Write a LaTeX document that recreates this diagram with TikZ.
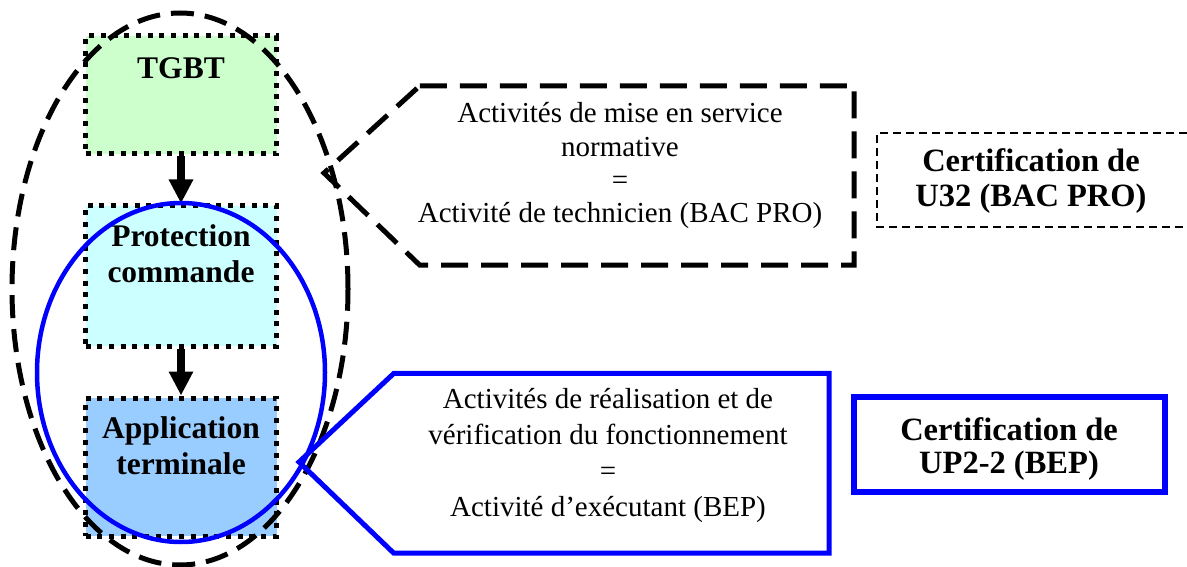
\documentclass[tikz,border=0pt]{standalone}
\usepackage{fontspec}
\setmainfont{Liberation Serif}
\usetikzlibrary{arrows.meta}
\definecolor{boxgreen}{HTML}{CCFFCC}
\definecolor{boxcyan}{HTML}{CCFFFF}
\definecolor{boxblue}{HTML}{99CCFF}
\definecolor{lineblue}{HTML}{0000FF}

\begin{document}
\begin{tikzpicture}[x=1pt,y=-1pt,
  stagebox/.style={draw=black, line width=5pt, dash pattern=on 5pt off 6.7pt,
    inner sep=0pt, minimum width=191pt},
  stagetext/.style={font=\bfseries\fontsize{31.5}{35.5}\selectfont, align=center,
    inner sep=0pt, anchor=base},
  flow/.style={line width=8pt, -{Triangle[width=23pt,length=24pt]}},
  scopeline/.style={draw=black, line width=5pt, dash pattern=on 23pt off 11pt},
  levelline/.style={draw=lineblue, line width=4.5pt},
  frame/.style={inner sep=0pt},
  dashcallout/.style={draw=black, line width=5pt, dash pattern=on 27pt off 13pt, line join=miter},
  bluecallout/.style={draw=lineblue, line width=5pt, line join=miter},
  calltext/.style={font=\fontsize{29}{33.3}\selectfont, align=center, inner sep=0pt, anchor=base},
  certtext/.style={font=\bfseries\fontsize{32.5}{34}\selectfont, align=center, inner sep=0pt, anchor=base},
  certdash/.style={draw=black, line width=2pt, dash pattern=on 8pt off 5pt},
  certblue/.style={draw=lineblue, line width=6.5pt, inner sep=0pt}
]
\useasboundingbox (0,0) rectangle (1187,567);
\clip (0,0) rectangle (1187,567);

% the three installation levels (text anchored on the baseline of its last line)
\node[stagebox, fill=boxgreen, minimum height=118pt] (tgbt) at (181,95) {};
\node[stagebox, fill=boxcyan, minimum height=140pt] (prot) at (181,276) {};
\node[stagebox, fill=boxblue, minimum height=138pt] (app) at (181,467) {};

\node[stagetext] (tgbtlbl) at (181,79) {TGBT};
\node[stagetext] (protlbl) at (181,282) {Protection\\commande};
\node[stagetext] (applbl) at (181,474) {Application\\terminale};

\draw[flow] (tgbt.south) -- (prot.north);
\draw[flow] (prot.south) -- (app.north);

% scope of each certification
\draw[scopeline] (180,289) ellipse [x radius=168pt, y radius=276pt];
\draw[levelline] (181,372.5) ellipse [x radius=144pt, y radius=169.5pt];

% BAC PRO callout
\node[frame, minimum width=434pt, minimum height=179pt] (call1) at (637,175.5) {};
\coordinate (tip1) at (324,173);
\draw[dashcallout] (call1.north west) -- (call1.north east) -- (call1.south east)
  -- (call1.south west) -- (tip1) -- cycle;
\node[calltext] (call1txt) at (620,222.7)
  {Activités de mise en service\\normative\\=\\Activité de technicien (BAC PRO)};

% BEP callout
\node[frame, minimum width=435pt, minimum height=179.4pt] (call2) at (611.5,463.3) {};
\coordinate (tip2) at (299,462);
\draw[bluecallout] (call2.north west) -- (call2.north east) -- (call2.south east)
  -- (call2.south west) -- (tip2) -- cycle;
\node[calltext, font=\fontsize{29}{35.7}\selectfont] (call2txt) at (608,516)
  {Activités de réalisation et de\\vérification du fonctionnement\\=\\Activité d’exécutant (BEP)};

% certifications
\draw[certdash] (1200,133) -| (877,227) -- (1200,227);
\node[certtext, font=\bfseries\fontsize{32.5}{35}\selectfont] (cert1) at (1031,207)
  {Certification de\\U32 (BAC PRO)};

\node[certblue, minimum width=311pt, minimum height=95pt] (cert2box) at (1009.5,444.5) {};
\node[certtext, font=\bfseries\fontsize{32.5}{33}\selectfont] (cert2) at (1009,473)
  {Certification de\\UP2-2 (BEP)};
\end{tikzpicture}
\end{document}
